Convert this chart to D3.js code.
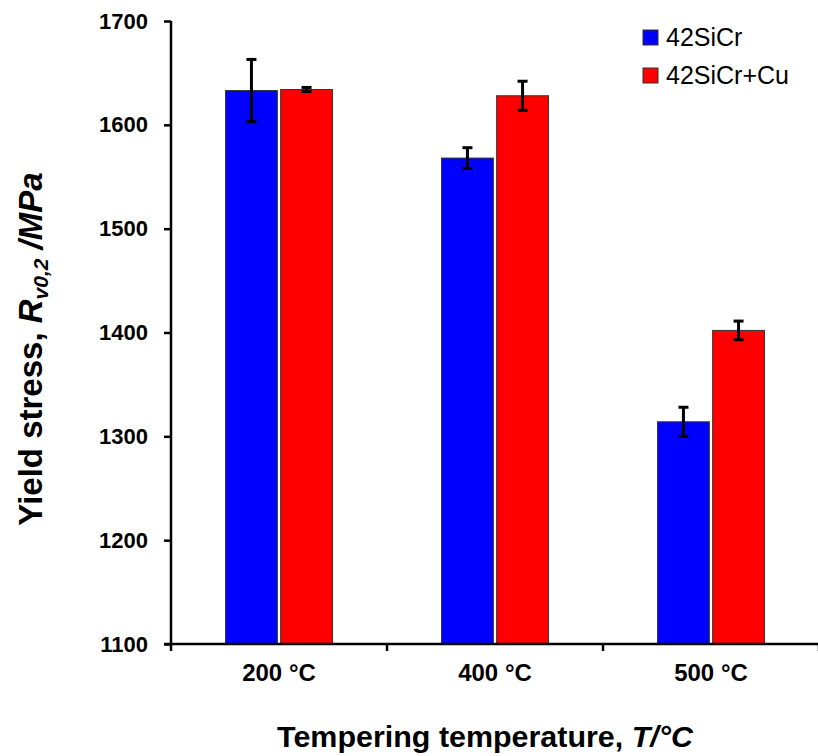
<!DOCTYPE html>
<html>
<head>
<meta charset="utf-8">
<script src="https://cdn.jsdelivr.net/npm/d3@7"></script>
<style>
  body { margin: 0; background: #fff; }
  text { font-family: "Liberation Sans", Arial, sans-serif; }
</style>
</head>
<body>
<svg id="chart" width="818" height="756"></svg>
<script>
const categories = ["200 °C", "400 °C", "500 °C"];
const seriesNames = ["42SiCr", "42SiCr+Cu"];
const seriesColors = ["#0000ff", "#ff0000"];
const valuesSiCr = [1633, 1568, 1314];
const valuesSiCrCu = [1634, 1628, 1402];
const errorsSiCr = [30, 10, 14];
const errorsSiCrCu = [2, 14, 9];
const yTicks = [1100, 1200, 1300, 1400, 1500, 1600, 1700];

const seriesValues = [valuesSiCr, valuesSiCrCu];
const seriesErrors = [errorsSiCr, errorsSiCrCu];

const svg = d3.select("#chart");
const width = 818;
const height = 756;
const margin = { top: 21, right: -1, bottom: 112, left: 171 };

const x = d3
  .scaleBand()
  .domain(categories)
  .range([margin.left, width - margin.right])
  .paddingInner(0.505)
  .paddingOuter(0.2525);

const x1 = d3.scaleBand().domain(seriesNames).range([0, x.bandwidth()]).paddingInner(0.06);

const y = d3
  .scaleLinear()
  .domain([1100, 1700])
  .range([height - margin.bottom, margin.top]);

// bars
const rows = categories.map((c, i) => ({
  cat: c,
  bars: seriesNames.map((s, j) => ({ s, j, v: seriesValues[j][i], e: seriesErrors[j][i] })),
}));

const groups = svg
  .append("g")
  .selectAll("g")
  .data(rows)
  .join("g")
  .attr("transform", (d) => `translate(${x(d.cat)},0)`);

groups
  .selectAll("rect")
  .data((d) => d.bars)
  .join("rect")
  .attr("x", (d) => x1(d.s))
  .attr("y", (d) => y(d.v))
  .attr("width", x1.bandwidth())
  .attr("height", (d) => y(1100) - y(d.v))
  .attr("fill", (d) => seriesColors[d.j])
  .attr("stroke", "#333")
  .attr("stroke-width", 1);

// error bars
const err = groups
  .selectAll("g.err")
  .data((d) => d.bars)
  .join("g")
  .attr("class", "err")
  .attr("stroke", "#000")
  .attr("stroke-width", 3);

err
  .append("line")
  .attr("x1", (d) => x1(d.s) + x1.bandwidth() / 2)
  .attr("x2", (d) => x1(d.s) + x1.bandwidth() / 2)
  .attr("y1", (d) => y(d.v + d.e))
  .attr("y2", (d) => y(d.v - d.e));

[1, -1].forEach((sign) => {
  err
    .append("line")
    .attr("x1", (d) => x1(d.s) + x1.bandwidth() / 2 - 5)
    .attr("x2", (d) => x1(d.s) + x1.bandwidth() / 2 + 5)
    .attr("y1", (d) => y(d.v + sign * d.e))
    .attr("y2", (d) => y(d.v + sign * d.e));
});

// y axis
const yAxis = svg
  .append("g")
  .attr("transform", `translate(${margin.left},0)`)
  .call(
    d3.axisLeft(y).tickValues(yTicks).tickFormat(d3.format("d")).tickSize(7).tickSizeOuter(0).tickPadding(16)
  );
yAxis.select(".domain").attr("stroke-width", 2.5).attr("d", `M0,${y(1700)}V${y(1100)}`);
yAxis.selectAll(".tick line").attr("stroke-width", 2.5);
yAxis
  .selectAll(".tick text")
  .style("font-size", "22px")
  .style("font-weight", "bold")
  .attr("fill", "#000");

// x axis
const xAxisG = svg.append("g").attr("transform", `translate(0,${y(1100)})`);
xAxisG
  .append("line")
  .attr("x1", margin.left - 7)
  .attr("x2", width)
  .attr("stroke", "#000")
  .attr("stroke-width", 2.5);
const gap = (x.step() - x.bandwidth()) / 2;
const boundaries = categories.map((c) => x(c) - gap).concat([x(categories[2]) + x.bandwidth() + gap]);
xAxisG
  .selectAll("line.tk")
  .data(boundaries)
  .join("line")
  .attr("class", "tk")
  .attr("x1", (d) => d)
  .attr("x2", (d) => d)
  .attr("y1", 0)
  .attr("y2", 7)
  .attr("stroke", "#000")
  .attr("stroke-width", 2.5);
xAxisG
  .selectAll("text")
  .data(categories)
  .join("text")
  .attr("x", (d) => x(d) + x.bandwidth() / 2)
  .attr("y", 37)
  .attr("text-anchor", "middle")
  .style("font-size", "24px")
  .style("font-weight", "bold")
  .text((d) => d);

// axis titles
const xt = svg
  .append("text")
  .attr("transform", "translate(485,747) scale(1.05,1)")
  .attr("text-anchor", "middle")
  .style("font-size", "29px")
  .style("font-weight", "bold");
xt.append("tspan").text("Tempering temperature, ");
xt.append("tspan").style("font-style", "italic").text("T/°C");

const yt = svg
  .append("text")
  .attr("transform", "translate(42,349) rotate(-90)")
  .attr("text-anchor", "middle")
  .style("font-size", "33px")
  .style("font-weight", "bold");
yt.append("tspan").text("Yield stress, ");
yt.append("tspan").style("font-style", "italic").text("R");
yt.append("tspan").style("font-style", "italic").style("font-size", "21px").attr("dy", 6).text("v0,2");
yt.append("tspan").style("font-style", "italic").attr("dy", -6).text(" /MPa");

// legend
const legend = svg
  .append("g")
  .selectAll("g")
  .data(seriesNames)
  .join("g")
  .attr("transform", (d, i) => `translate(643,${30 + i * 38})`);
legend
  .append("rect")
  .attr("width", 15)
  .attr("height", 15)
  .attr("fill", (d, i) => seriesColors[i])
  .attr("stroke", "#333")
  .attr("stroke-width", 1);
legend
  .append("text")
  .attr("x", 23)
  .attr("y", 16)
  .style("font-size", "25px")
  .text((d) => d);
</script>
</body>
</html>
